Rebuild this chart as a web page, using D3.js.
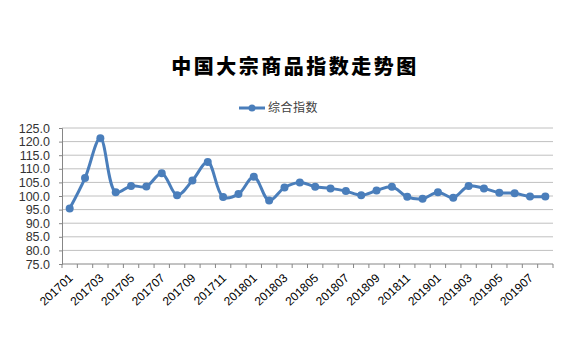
<!DOCTYPE html>
<html>
<head>
<meta charset="utf-8">
<script src="https://cdn.jsdelivr.net/npm/d3@7"></script>
<style>
  body { margin: 0; background: #fff; }
  svg text { font-family: "Liberation Sans", Arial, sans-serif; }
</style>
</head>
<body>
<svg id="chart"></svg>
<script>
// chart data
const months = [
  "201701", "201702", "201703", "201704", "201705", "201706", "201707", "201708",
  "201709", "201710", "201711", "201712", "201801", "201802", "201803", "201804",
  "201805", "201806", "201807", "201808", "201809", "201810", "201811", "201812",
  "201901", "201902", "201903", "201904", "201905", "201906", "201907", "201908"
];
const values = [
  95.4, 106.6, 121.2, 101.4, 103.7, 103.5, 108.4, 100.3,
  105.7, 112.5, 99.6, 100.7, 107.1, 98.3, 103.1, 105.0,
  103.4, 102.8, 101.8, 100.3, 102.0, 103.4, 99.7, 99.0,
  101.4, 99.4, 103.7, 102.8, 101.2, 101.0, 99.8, 99.8
];
const yTicks = [75, 80, 85, 90, 95, 100, 105, 110, 115, 120, 125];
const seriesName = "综合指数";
const title = "中国大宗商品指数走势图";

const W = 576, H = 359;
const margin = { top: 128, right: 23, bottom: 95, left: 62 };
const width = W - margin.left - margin.right;
const height = H - margin.top - margin.bottom;
const blue = "#4a7ebb";

const svg = d3.select("#chart").attr("width", W).attr("height", H);

// title
svg.append("text")
  .attr("x", 295)
  .attr("y", 74)
  .attr("text-anchor", "middle")
  .style("font-family", "'Noto Sans CJK SC', sans-serif")
  .style("font-weight", "900")
  .style("font-size", "20px")
  .style("letter-spacing", "2.5px")
  .attr("fill", "#000")
  .text(title);

// legend
const legend = svg.append("g").attr("transform", "translate(239,108)");
legend.append("line").attr("x1", 0).attr("x2", 26).attr("stroke", blue).attr("stroke-width", 3);
legend.append("circle").attr("cx", 13).attr("r", 3.5).attr("fill", blue);
legend.append("text")
  .attr("x", 29)
  .attr("dy", "0.35em")
  .style("font-family", "'Noto Sans CJK SC', sans-serif")
  .style("font-size", "12px")
  .style("letter-spacing", "0.5px")
  .attr("fill", "#404040")
  .text(seriesName);

const g = svg.append("g").attr("transform", `translate(${margin.left},${margin.top})`);

const x = d3.scaleBand().domain(months).range([0, width]);
const y = d3.scaleLinear().domain([75, 125]).range([height, 0]);

// gridlines
g.selectAll(".grid")
  .data(yTicks.slice(1))
  .enter()
  .append("line")
  .attr("x1", 0)
  .attr("x2", width)
  .attr("y1", (d) => y(d))
  .attr("y2", (d) => y(d))
  .attr("stroke", "#c0c0c0")
  .attr("stroke-width", 1);

// y axis
const yAxis = g.append("g")
  .call(d3.axisLeft(y).tickValues(yTicks).tickFormat(d3.format(".1f")).tickSize(3).tickPadding(9));
yAxis.select(".domain").attr("stroke", "#868686");
yAxis.selectAll(".tick line").attr("stroke", "#868686");
yAxis.selectAll("text")
  .style("font-size", "12.5px")
  .attr("fill", "#333");

// x axis: ticks at category boundaries
const xg = g.append("g").attr("transform", `translate(0,${height})`);
xg.append("line").attr("x1", 0).attr("x2", width).attr("stroke", "#868686");
xg.selectAll(".tick")
  .data(months.concat([null]))
  .enter()
  .append("line")
  .attr("x1", (d, i) => i * x.step())
  .attr("x2", (d, i) => i * x.step())
  .attr("y1", 0)
  .attr("y2", 4)
  .attr("stroke", "#868686");
xg.selectAll(".xlabel")
  .data(months.filter((d, i) => i % 2 === 0))
  .enter()
  .append("text")
  .attr("text-anchor", "end")
  .attr("transform", (d) => `translate(${x(d) + x.bandwidth() / 2 + 4},${15}) rotate(-43)`)
  .style("font-size", "12px")
  .attr("fill", "#000")
  .text((d) => d);

// line
const line = d3.line()
  .x((d, i) => x(months[i]) + x.bandwidth() / 2)
  .y((d) => y(d))
  .curve(d3.curveCatmullRom.alpha(0.5));

g.append("path")
  .datum(values)
  .attr("fill", "none")
  .attr("stroke", blue)
  .attr("stroke-width", 3)
  .attr("d", line);

g.selectAll(".dot")
  .data(values)
  .enter()
  .append("circle")
  .attr("cx", (d, i) => x(months[i]) + x.bandwidth() / 2)
  .attr("cy", (d) => y(d))
  .attr("r", 4)
  .attr("fill", blue);
</script>
</body>
</html>
